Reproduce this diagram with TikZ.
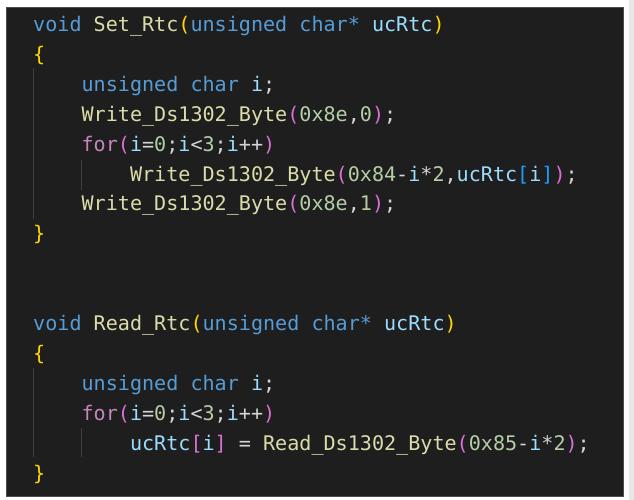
\documentclass[tikz,border=0pt]{standalone}
\usepackage{fontspec}
\newfontfamily\codefont{DejaVu Sans Mono}
\definecolor{bgdark}{HTML}{1E1E1E}
\definecolor{kw}{HTML}{569CD6}
\definecolor{ctl}{HTML}{C586C0}
\definecolor{fn}{HTML}{DCDCAA}
\definecolor{var}{HTML}{9CDCFE}
\definecolor{num}{HTML}{B5CEA8}
\definecolor{op}{HTML}{D4D4D4}
\definecolor{bA}{HTML}{FFD700}
\definecolor{bB}{HTML}{DA70D6}
\definecolor{bC}{HTML}{179FFF}
\definecolor{guide}{HTML}{404040}
\definecolor{sidebar}{HTML}{E8E8E8}
\newcommand{\K}[1]{\textcolor{kw}{#1}}
\newcommand{\F}[1]{\textcolor{fn}{#1}}
\newcommand{\V}[1]{\textcolor{var}{#1}}
\newcommand{\N}[1]{\textcolor{num}{#1}}
\newcommand{\C}[1]{\textcolor{ctl}{#1}}
\newcommand{\BA}[1]{\textcolor{bA}{#1}}
\newcommand{\BB}[1]{\textcolor{bB}{#1}}
\newcommand{\BC}[1]{\textcolor{bC}{#1}}
\begin{document}
\begin{tikzpicture}[x=1pt,y=-1pt,
  codeline/.style={inner sep=0pt, anchor=base west, text=op,
    font=\codefont\fontsize{20.1}{24}\selectfont},
  guideline/.style={draw=guide, line width=1pt}]
\useasboundingbox (0,0) rectangle (634,500);
\fill[white] (0,0) rectangle (634,500);
\fill[sidebar] (629,0) rectangle (634,500);
\filldraw[fill=bgdark, draw=black!70, line width=0.8pt] (6,7) rectangle (623,496);
% indent guides
\draw[guideline] (33.5,68) -- (33.5,219);
\draw[guideline] (81.5,160) -- (81.5,190);
\draw[guideline] (33.5,368) -- (33.5,457);
\draw[guideline] (81.5,428) -- (81.5,457);
% code lines
\node[codeline] (l1) at (33,31.5) {\K{void} \F{Set\_Rtc}\BA{(}\K{unsigned char*} \V{ucRtc}\BA{)}};
\node[codeline] (l2) at (33,61.4) {\BA{\{}};
\node[codeline] (l3) at (81.4,91.3) {\K{unsigned char} \V{i};};
\node[codeline] (l4) at (81.4,121.2) {\F{Write\_Ds1302\_Byte}\BB{(}\N{0x8e},\N{0}\BB{)};};
\node[codeline] (l5) at (81.4,151.1) {\C{for}\BB{(}\V{i}=\N{0};\V{i}<\N{3};\V{i}++\BB{)}};
\node[codeline] (l6) at (129.8,181.0) {\F{Write\_Ds1302\_Byte}\BB{(}\N{0x84}-\V{i}*\N{2},\V{ucRtc}\BC{[}\V{i}\BC{]}\BB{)};};
\node[codeline] (l7) at (81.4,210.9) {\F{Write\_Ds1302\_Byte}\BB{(}\N{0x8e},\N{1}\BB{)};};
\node[codeline] (l8) at (33,240.8) {\BA{\}}};
\node[codeline] (l11) at (33,330.5) {\K{void} \F{Read\_Rtc}\BA{(}\K{unsigned char*} \V{ucRtc}\BA{)}};
\node[codeline] (l12) at (33,360.4) {\BA{\{}};
\node[codeline] (l13) at (81.4,390.3) {\K{unsigned char} \V{i};};
\node[codeline] (l14) at (81.4,420.2) {\C{for}\BB{(}\V{i}=\N{0};\V{i}<\N{3};\V{i}++\BB{)}};
\node[codeline] (l15) at (129.8,450.1) {\V{ucRtc}\BB{[}\V{i}\BB{]} = \F{Read\_Ds1302\_Byte}\BB{(}\N{0x85}-\V{i}*\N{2}\BB{)};};
\node[codeline] (l16) at (33,480.0) {\BA{\}}};
\end{tikzpicture}
\end{document}
